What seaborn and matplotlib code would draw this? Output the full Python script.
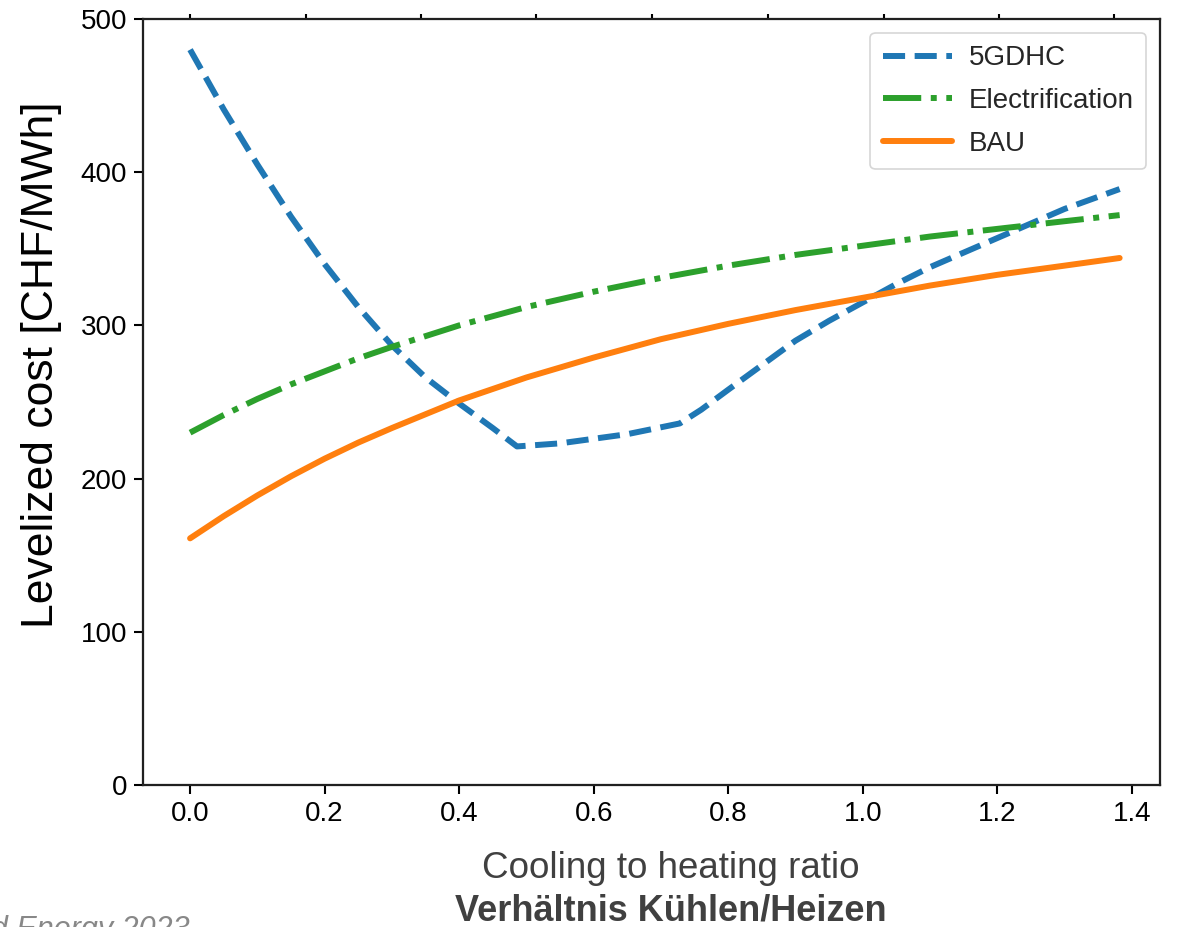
import numpy as np
import pandas as pd
import matplotlib
matplotlib.use("Agg")
import matplotlib.pyplot as plt
import seaborn as sns

# ---- data ----
x_5gdhc = [0.0, 0.05, 0.1, 0.15, 0.2, 0.25, 0.3, 0.35, 0.4, 0.45, 0.486, 0.55, 0.65, 0.728,
           0.76, 0.8, 0.85, 0.9, 0.95, 1.0, 1.05, 1.1, 1.2, 1.3, 1.382]
y_5gdhc = [480, 441, 405, 371, 340, 312, 287, 266, 249, 233, 221, 223, 229, 236,
           245, 258, 274, 290, 303, 315, 327, 338, 357, 376, 389]

x_elec = [0.0, 0.05, 0.1, 0.15, 0.2, 0.25, 0.3, 0.35, 0.4, 0.5, 0.6, 0.7, 0.8, 0.9, 1.0, 1.1, 1.2, 1.3, 1.382]
y_elec = [230, 241.5, 252, 261.5, 270, 278.5, 286, 293, 300, 312, 322, 331, 339, 346, 352, 358, 363, 368, 372]

x_bau = [0.0, 0.05, 0.1, 0.15, 0.2, 0.25, 0.3, 0.35, 0.4, 0.5, 0.6, 0.7, 0.8, 0.9, 1.0, 1.1, 1.2, 1.3, 1.382]
y_bau = [161, 175.5, 189, 201.5, 213, 223.5, 233, 242, 251, 266, 279, 291, 301, 310, 318, 326, 333, 339, 344]

top_ticks = [0.0, 0.172, 0.344, 0.515, 0.687, 0.859, 1.031, 1.203, 1.374]

xlabel_en = "Cooling to heating ratio"
xlabel_de = "Verhältnis Kühlen/Heizen"
ylabel = "Levelized cost [CHF/MWh]"
source = "Applied Energy 2023"

sns.set_theme(style="ticks")
plt.rcParams['font.family'] = ['Liberation Sans', 'DejaVu Sans']

fig = plt.figure(figsize=(11.78, 9.27), dpi=100)
ax = fig.add_axes([143/1178, 1-785/927, (1160-143)/1178, (785-19)/927])

lw = 4.3
df1 = pd.DataFrame({"x": x_5gdhc, "y": y_5gdhc})
df2 = pd.DataFrame({"x": x_elec, "y": y_elec})
df3 = pd.DataFrame({"x": x_bau, "y": y_bau})
sns.lineplot(data=df1, x="x", y="y", ax=ax, color="#1f77b4", linestyle="--", linewidth=lw, label="5GDHC")
sns.lineplot(data=df2, x="x", y="y", ax=ax, color="#2ca02c", linestyle="-.", linewidth=lw, label="Electrification")
sns.lineplot(data=df3, x="x", y="y", ax=ax, color="#ff7f0e", linestyle="-", linewidth=lw, label="BAU")

ax.set_ylim(0, 500)
ax.set_xlim(-0.07, 1.442)
ax.set_xticks([0.0, 0.2, 0.4, 0.6, 0.8, 1.0, 1.2, 1.4])
ax.set_xticklabels([f"{v:.1f}" for v in [0.0, 0.2, 0.4, 0.6, 0.8, 1.0, 1.2, 1.4]])
ax.set_yticks([0, 100, 200, 300, 400, 500])
ax.tick_params(axis="both", labelsize=20, length=6.5, width=1.5, color="black", labelcolor="black", pad=5)
for s in ax.spines.values():
    s.set_linewidth(1.6)
    s.set_color("black")
    s.set_visible(True)

# top ticks (secondary axis without labels)
ax2 = ax.twiny()
ax2.set_xlim(ax.get_xlim())
ax2.set_xticks(top_ticks)
ax2.set_xticklabels([])
ax2.tick_params(axis="x", length=3.5, width=1.5, color="black")

ax.set_xlabel("")
ax.set_ylabel(ylabel, fontsize=32, color="black")
ax.yaxis.set_label_coords(-0.080, 0.548)

fig.text(671/1178, 1-868/927, xlabel_en, ha="center", va="center", fontsize=26.5, color="#404040")
fig.text(671/1178, 1-911/927, xlabel_de, ha="center", va="center", fontsize=26, color="#404040", fontweight="bold")
fig.text(190/1178, 1-938/927, source, ha="right", va="baseline", fontsize=22, color="#888888", style="italic")

leg = ax.legend(loc="upper right", fontsize=20, frameon=True, handlelength=2.5,
                borderpad=0.45, labelspacing=0.6, handletextpad=0.6, borderaxespad=0.5)
leg.get_frame().set_edgecolor("#cccccc")
leg.get_frame().set_linewidth(1.2)

fig.savefig("out.png", dpi=100)
